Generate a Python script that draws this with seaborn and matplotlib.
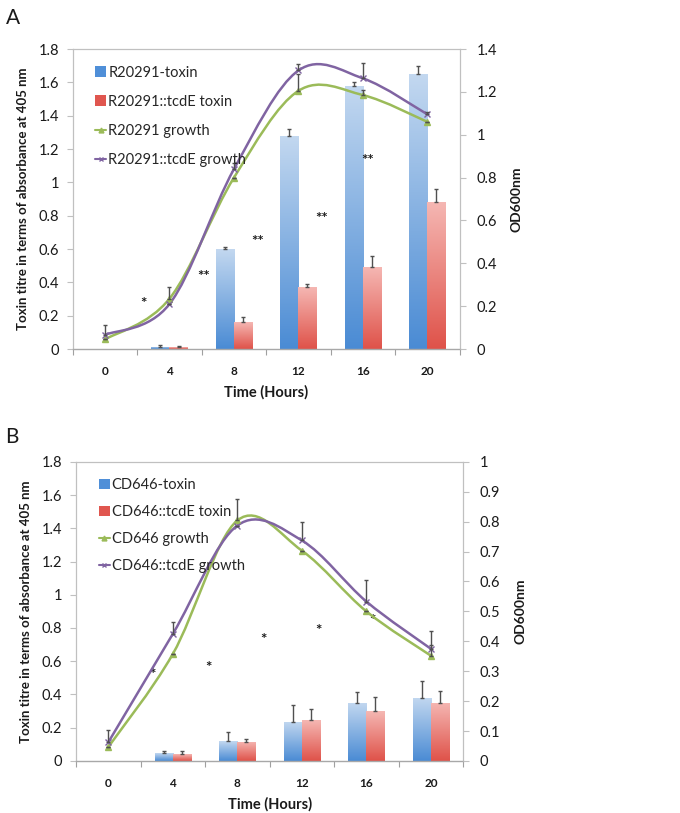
import numpy as np
import pandas as pd
import matplotlib
matplotlib.use("Agg")
import matplotlib.pyplot as plt
import seaborn as sns
from matplotlib.path import Path
from matplotlib.patches import PathPatch, Patch
from matplotlib.lines import Line2D
from matplotlib.colors import LinearSegmentedColormap
from matplotlib.ticker import FuncFormatter, MultipleLocator, FixedLocator

# ---------------- data ----------------
times = ["0", "4", "8", "12", "16", "20"]

# Panel A
a_toxin_names = ["R20291-toxin", "R20291::tcdE toxin"]
a_wt_toxin = [0.0, 0.015, 0.60, 1.28, 1.58, 1.65]
a_wt_toxin_err = [0.0, 0.008, 0.012, 0.04, 0.02, 0.05]
a_mut_toxin = [0.0, 0.012, 0.16, 0.37, 0.49, 0.88]
a_mut_toxin_err = [0.0, 0.005, 0.03, 0.02, 0.07, 0.08]
a_growth_names = ["R20291 growth", "R20291::tcdE growth"]
a_wt_growth = [0.045, 0.235, 0.80, 1.205, 1.185, 1.06]
a_wt_growth_err = [0.0, 0.055, 0.0, 0.078, 0.025, 0.0]
a_mut_growth = [0.066, 0.21, 0.84, 1.30, 1.263, 1.095]
a_mut_growth_err = [0.044, 0.0, 0.03, 0.028, 0.07, 0.01]
a_star_x = [0.6, 1.53, 2.36, 3.36, 4.07]
a_star_y = [0.27, 0.43, 0.64, 0.78, 1.13]
a_star_txt = ["*", "**", "**", "**", "**"]

# Panel B
b_toxin_names = ["CD646-toxin", "CD646::tcdE toxin"]
b_wt_toxin = [0.0, 0.045, 0.12, 0.235, 0.35, 0.38]
b_wt_toxin_err = [0.0, 0.015, 0.055, 0.10, 0.065, 0.10]
b_mut_toxin = [0.0, 0.04, 0.115, 0.245, 0.30, 0.35]
b_mut_toxin_err = [0.0, 0.02, 0.02, 0.07, 0.085, 0.07]
b_growth_names = ["CD646 growth", "CD646::tcdE growth"]
b_wt_growth = [0.047, 0.358, 0.804, 0.703, 0.50, 0.352]
b_wt_growth_err = [0.0, 0.0, 0.072, 0.0, 0.0, 0.037]
b_mut_growth = [0.063, 0.425, 0.787, 0.737, 0.533, 0.375]
b_mut_growth_err = [0.04, 0.041, 0.0, 0.063, 0.072, 0.061]
b_star_x = [0.68, 1.55, 2.4, 3.26, 4.1]
b_star_y = [0.52, 0.56, 0.73, 0.78, 0.84]
b_star_txt = ["*", "*", "*", "*", "*"]

y_label = "Toxin titre in terms of absorbance at 405 nm"
y2_label = "OD600nm"
x_label = "Time (Hours)"

# ---------------- style ----------------
sns.set_style("white")
plt.rcParams["font.family"] = ["Lato", "DejaVu Sans"]

BLUE = "#4f8fd8"
RED = "#e0564f"
GREEN = "#9bbb59"
PURPLE = "#8064a2"
blue_cmap = LinearSegmentedColormap.from_list("b", ["#c3d8f0", "#4a8bd4"])
red_cmap = LinearSegmentedColormap.from_list("r", ["#f5b7b3", "#df5249"])
TXT = "#1a1a1a"
SPINE = "#c0c0c0"


def smooth_path(xs, ys):
    pts = np.column_stack([xs, ys]).astype(float)
    n = len(pts)
    verts = [tuple(pts[0])]
    codes = [Path.MOVETO]
    for i in range(n - 1):
        p0 = pts[max(i - 1, 0)]
        p1 = pts[i]
        p2 = pts[i + 1]
        p3 = pts[min(i + 2, n - 1)]
        c1 = p1 + (p2 - p0) / 6.0
        c2 = p2 - (p3 - p1) / 6.0
        verts += [tuple(c1), tuple(c2), tuple(p2)]
        codes += [Path.CURVE4] * 3
    return Path(verts, codes)


fmt = FuncFormatter(lambda v, _: f"{v:g}")


def panel(rect, names, wt, wt_e, mut, mut_e, gnames, gwt, gwt_e, gmut, gmut_e,
          y2max, y2step, sx, sy, stxt, leg_anchor, leg_spacing):
    ax = fig.add_axes(rect)
    df = pd.DataFrame({
        "time": times * 2,
        "value": list(wt) + list(mut),
        "strain": [names[0]] * len(times) + [names[1]] * len(times),
    })
    sns.barplot(data=df, x="time", y="value", hue="strain", order=times,
                hue_order=names, palette=[BLUE, RED], width=0.56,
                errorbar=None, legend=False, ax=ax, saturation=1)
    errs = {names[0]: wt_e, names[1]: mut_e}
    vals = {names[0]: wt, names[1]: mut}
    cmaps = [blue_cmap, red_cmap]
    grad = np.linspace(0, 1, 256).reshape(-1, 1)
    bars = list(ax.patches)
    for p in bars:
        cx = p.get_x() + p.get_width() / 2
        idx = int(round(cx))
        hue = 0 if cx < idx else 1
        h = p.get_height()
        if h > 0:
            im = ax.imshow(grad, extent=[p.get_x(), p.get_x() + p.get_width(), 0, h],
                           aspect="auto", cmap=cmaps[hue], origin="upper",
                           zorder=p.get_zorder(), interpolation="bilinear")
            im.set_clip_path(p)
            p.set_facecolor("none")
            p.set_edgecolor("none")
            e = errs[names[hue]][idx]
            if e > 0:
                ax.errorbar([cx], [vals[names[hue]][idx]], yerr=[[0], [e]], fmt="none",
                            ecolor="#505050", elinewidth=1.0, capsize=1.3, capthick=1.0,
                            zorder=3)
    for x, y, t in zip(sx, sy, stxt):
        ax.text(x, y, t, ha="center", va="center", fontsize=11, fontweight="bold",
                color=TXT, zorder=4)
    ax.set_xlim(-0.5, len(times) - 0.5)
    ax.set_ylim(0, 1.8)
    ax.yaxis.set_major_locator(MultipleLocator(0.2))
    ax.yaxis.set_major_formatter(fmt)
    ax.set_xlabel(x_label, fontsize=10.5, fontweight="bold", color=TXT, labelpad=6)
    ax.set_ylabel(y_label, fontsize=9.5, fontweight="bold", color=TXT, labelpad=7)
    ax.tick_params(axis="y", which="major", length=4, width=0.8, color=SPINE,
                   labelsize=10.5, labelcolor=TXT, pad=6, direction="out", left=True)
    ax.xaxis.set_minor_locator(FixedLocator(np.arange(-0.5, len(times), 1.0)))
    ax.tick_params(axis="x", which="major", length=0, labelsize=8.5, labelcolor=TXT, pad=12)
    ax.tick_params(axis="x", which="minor", length=4, width=0.8, color="#a0a0a0",
                   direction="out", bottom=True)
    for lab in ax.get_xticklabels():
        lab.set_fontweight("bold")
    for s in ["left", "right", "top"]:
        ax.spines[s].set_color(SPINE)
        ax.spines[s].set_linewidth(0.9)
    ax.spines["bottom"].set_color("#a8a8a8")
    ax.spines["bottom"].set_linewidth(1.0)

    ax2 = ax.twinx()
    xs = np.arange(len(times))
    for y, e, c, m, ms in [(gwt, gwt_e, GREEN, "^", 4.5), (gmut, gmut_e, PURPLE, "x", 4.0)]:
        ax2.add_patch(PathPatch(smooth_path(xs, y), facecolor="none", edgecolor=c,
                                linewidth=1.8, zorder=3))
        ax2.plot(xs, y, linestyle="none", marker=m, markersize=ms, color=c,
                 markeredgewidth=1.0, zorder=4)
        e = np.asarray(e)
        ax2.errorbar(xs, y, yerr=[np.zeros_like(e), e], fmt="none", ecolor="#505050",
                     elinewidth=1.0, capsize=1.3, capthick=1.0, zorder=5)
    ax2.set_ylim(0, y2max)
    ax2.yaxis.set_major_locator(MultipleLocator(y2step))
    ax2.yaxis.set_major_formatter(fmt)
    ax2.tick_params(axis="y", length=4, width=0.8, color=SPINE, labelsize=10.5,
                    labelcolor=TXT, pad=8, direction="out", right=True)
    ax2.set_ylabel(y2_label, fontsize=10, fontweight="bold", color=TXT, labelpad=10)
    for s in ax2.spines.values():
        s.set_visible(False)
    ax2.grid(False)
    ax.set_xlim(-0.5, len(times) - 0.5)
    ax.set_ylim(0, 1.8)

    handles = [
        Patch(facecolor=BLUE, edgecolor="none"),
        Patch(facecolor=RED, edgecolor="none"),
        Line2D([], [], color=GREEN, marker="^", markersize=3.5, linewidth=1.5),
        Line2D([], [], color=PURPLE, marker="x", markersize=3.5, linewidth=1.5),
    ]
    ax2.legend(handles, list(names) + list(gnames), loc="upper left",
               bbox_to_anchor=leg_anchor, frameon=False, fontsize=10.5,
               handlelength=0.75, handleheight=0.75, handletextpad=0.15,
               labelspacing=leg_spacing, borderpad=0, borderaxespad=0)
    return ax, ax2


fig = plt.figure(figsize=(6.8, 8.13), dpi=100)

panel([0.107, 0.5707, 0.569, 0.369], a_toxin_names, a_wt_toxin, a_wt_toxin_err,
      a_mut_toxin, a_mut_toxin_err, a_growth_names, a_wt_growth, a_wt_growth_err,
      a_mut_growth, a_mut_growth_err, 1.4, 0.2, a_star_x, a_star_y, a_star_txt,
      (0.058, 0.945), 1.05)
panel([0.112, 0.064, 0.569, 0.368], b_toxin_names, b_wt_toxin, b_wt_toxin_err,
      b_mut_toxin, b_mut_toxin_err, b_growth_names, b_wt_growth, b_wt_growth_err,
      b_mut_growth, b_mut_growth_err, 1.0, 0.1, b_star_x, b_star_y, b_star_txt,
      (0.058, 0.945), 0.88)

fig.text(0.008, 0.978, "A", fontsize=15, color=TXT, va="center", ha="left")
fig.text(0.008, 0.462, "B", fontsize=15, color=TXT, va="center", ha="left")

fig.savefig("out.png", dpi=100, facecolor="white")
